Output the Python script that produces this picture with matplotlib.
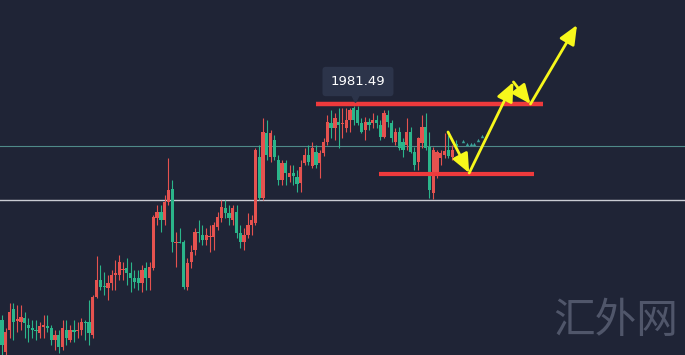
import matplotlib
matplotlib.use("Agg")
import matplotlib.pyplot as plt
from matplotlib.patches import FancyArrowPatch
import numpy as np

# ---------------- data ----------------
opens = [1765,1733,1755,1776,1764,1763,1767,1760,1757,1755,
         1752,1758,1759,1757,1745,1750,1738,1755,1745,1755,
         1754,1755,1763,1763,1750,1788,1805,1799,1797,1802,
         1810,1810,1815,1817,1812,1807,1807,1802,1817,1807,
         1817,1867,1873,1865,1883,1896,1842,1843,1843,1798,
         1823,1835,1853,1850,1845,1848,1848,1858,1867,1877,
         1872,1865,1873,1852,1843,1850,1860,1862,1928,1887,
         1952,1928,1945,1925,1905,1922,1908,1912,1908,1902,
         1922,1930,1919,1933,1922,1932,1943,1962,1957,1963,
         1961,1957,1965,1977,1975,1962,1955,1963,1962,1965,
         1960,1948,1970,1962,1943,1953,1943,1940,1953,1933,
         1923,1942,1958,1938,1892,1912,1927,1930,1935,1928,
         1941]
highs = [1770,1757,1782,1782,1780,1780,1773,1767,1765,1765,
         1763,1770,1770,1760,1755,1755,1765,1765,1760,1765,
         1763,1767,1765,1785,1790,1829,1820,1813,1810,1815,
         1825,1830,1823,1827,1823,1815,1815,1820,1823,1823,
         1870,1880,1880,1890,1927,1905,1853,1857,1845,1827,
         1840,1857,1865,1860,1857,1860,1863,1873,1885,1885,
         1880,1880,1880,1860,1857,1872,1870,1937,1940,1967,
         1965,1955,1950,1930,1925,1925,1920,1920,1915,1925,
         1937,1940,1943,1940,1935,1947,1970,1975,1972,1977,
         1977,1977,1977,1979,1979,1967,1968,1967,1972,1970,
         1965,1975,1975,1965,1957,1958,1947,1967,1958,1938,
         1948,1970,1972,1953,1938,1935,1935,1952,1950,1940,
         1945]
lows = [1730,1730,1747,1745,1753,1755,1747,1743,1747,1745,
        1747,1747,1753,1740,1735,1732,1735,1740,1743,1743,
        1747,1750,1745,1740,1747,1787,1795,1790,1785,1795,
        1795,1805,1805,1800,1793,1797,1795,1793,1795,1795,
        1815,1860,1853,1860,1880,1833,1818,1842,1796,1795,
        1817,1830,1843,1840,1840,1833,1835,1855,1863,1867,
        1860,1860,1847,1837,1835,1847,1850,1860,1885,1885,
        1925,1923,1925,1900,1900,1900,1903,1900,1893,1893,
        1920,1920,1917,1917,1907,1929,1940,1947,1945,1937,
        1947,1953,1953,1960,1960,1952,1945,1955,1957,1957,
        1945,1947,1958,1943,1940,1935,1928,1935,1932,1915,
        1915,1937,1935,1887,1886,1907,1920,1927,1927,1925,
        1935]
closes = [1740,1753,1773,1763,1766,1768,1762,1757,1755,1754,
          1759,1760,1757,1745,1750,1738,1757,1747,1755,1753,
          1755,1763,1762,1752,1788,1805,1798,1798,1802,1810,
          1812,1823,1816,1812,1807,1803,1802,1815,1807,1818,
          1868,1873,1865,1883,1895,1843,1843,1842,1798,1822,
          1833,1853,1852,1845,1850,1849,1860,1868,1878,1872,
          1867,1877,1852,1843,1850,1860,1865,1935,1887,1953,
          1930,1952,1928,1905,1922,1912,1912,1909,1901,1918,
          1930,1923,1937,1920,1932,1943,1963,1957,1967,1960,
          1962,1965,1975,1965,1962,1953,1963,1960,1965,1962,
          1948,1972,1963,1947,1953,1937,1935,1953,1933,1920,
          1947,1958,1937,1895,1935,1933,1932,1934,1929,1935,
          1938]

resistance = 1981.49
support = 1911
level_teal = 1939
level_white = 1885
label_text = "1981.49"

# projected path (bar index, price)
proj_idx = [117.9, 123.5, 135.2, 139.7, 152.0]
proj_price = [1953, 1912, 2003, 1981, 2060]
# small teal projection marks
dots_idx = [121.9, 122.9, 124.0, 124.8, 125.8, 126.9]
dots_price = [1944, 1941, 1941, 1941, 1945, 1949]

watermark = "汇外网"

# ---------------- style ----------------
bg = "#1f2436"
up_col = "#e5524f"
dn_col = "#2bb58a"

W, H = 685, 355
x0_px, dx_px = 2.0, 3.783

fig = plt.figure(figsize=(W / 100, H / 100), dpi=100)
fig.patch.set_facecolor(bg)
ax = fig.add_axes([0, 0, 1, 1])
ax.set_facecolor(bg)
ax.set_xlim(-x0_px / dx_px, (W - x0_px) / dx_px)
ax.set_ylim(1730, 2085)
ax.axis("off")

o = np.array(opens, float)
h = np.array(highs, float)
l = np.array(lows, float)
c = np.array(closes, float)
idx = np.arange(len(o))
cols = [up_col if cc >= oo else dn_col for oo, cc in zip(o, c)]

# reference lines
ax.axhline(level_teal, color="#4f8a89", lw=0.8, zorder=1)
ax.axhline(level_white, color="#c9ccd3", lw=1.0, zorder=1)

# candles
ax.vlines(idx, l, h, colors=cols, lw=0.8, zorder=2)
bottoms = np.minimum(o, c)
heights = np.maximum(np.abs(c - o), 1.0)
ax.bar(idx, heights, bottom=bottoms, width=0.86, color=cols, edgecolor="none", zorder=3)

# red horizontal levels
ax.hlines(resistance, 83.0, 143.0, color="#ee3a3c", lw=3.2, zorder=4)
ax.hlines(support, 99.7, 140.6, color="#ee3a3c", lw=3.0, zorder=4)

# projection marks
ax.scatter(dots_idx, dots_price, marker="^", s=6, color="#3aa39a", zorder=4, linewidths=0)

# yellow arrows
for i in range(len(proj_idx) - 1):
    arr = FancyArrowPatch((proj_idx[i], proj_price[i]), (proj_idx[i + 1], proj_price[i + 1]),
                          arrowstyle="-|>,head_length=1.15,head_width=0.5", mutation_scale=10,
                          color="#f7f71b", lw=2, shrinkA=0, shrinkB=0, zorder=5)
    ax.add_patch(arr)

# label
ax.plot([93.3], [1987], marker="v", ms=6, color="#2c344a", zorder=5)
ax.text(94.1, 2003.5, label_text, color="white", fontsize=9.5, ha="center", va="center",
        family="DejaVu Sans", zorder=6,
        bbox=dict(boxstyle="round,pad=0.62,rounding_size=0.25", fc="#2c344a", ec="none"))

# watermark
fig.text(616 / W, 1 - 322 / H, watermark, color="#50566a", fontsize=30, ha="center", va="center",
         family=["Noto Sans CJK SC", "DejaVu Sans"], fontweight="light")

fig.savefig("out.png", dpi=100, facecolor=bg)
